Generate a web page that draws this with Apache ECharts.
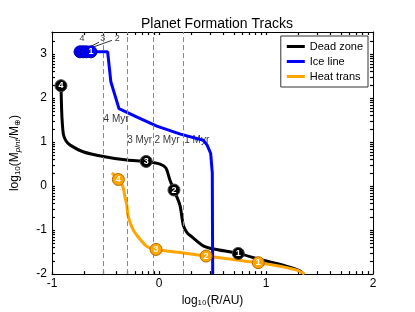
<!DOCTYPE html>
<html><head><meta charset="utf-8">
<script src="https://cdn.jsdelivr.net/npm/echarts@6/dist/echarts.min.js"></script>
<style>html,body{margin:0;padding:0;background:#fff}#c{width:415px;height:312px}</style>
</head><body><div id="c"></div>
<script>
// ---- data ----
const deadZoneX = [-0.916, -0.912, -0.907, -0.894, -0.87, -0.83, -0.71, -0.52, -0.30, -0.12, 0.01, 0.065, 0.10, 0.14, 0.196, 0.227, 0.26, 0.305, 0.414, 0.51, 0.741, 0.944, 1.19, 1.32, 1.35];
const deadZoneY = [2.28, 1.9, 1.56, 1.18, 1.03, 0.93, 0.78, 0.67, 0.59, 0.56, 0.50, 0.41, 0.15, -0.09, -0.44, -0.89, -1.05, -1.15, -1.36, -1.43, -1.53, -1.67, -1.82, -1.93, -2.0];
const iceLineX = [-0.738, -0.645, -0.48, -0.45, -0.374, -0.2, -0.02, 0.2, 0.414, 0.45, 0.483, 0.498, 0.50, 0.502];
const iceLineY = [3.05, 3.05, 3.05, 2.37, 1.76, 1.56, 1.36, 1.18, 1.04, 0.93, 0.74, 0.30, -1.0, -2.0];
const heatTransX = [-0.44, -0.38, -0.34, -0.32, -0.30, -0.29, -0.25, -0.21, -0.115, -0.028, 0.227, 0.44, 0.694, 0.928, 1.13, 1.29, 1.36];
const heatTransY = [0.30, 0.15, 0.0, -0.22, -0.45, -0.67, -0.95, -1.11, -1.37, -1.44, -1.52, -1.59, -1.67, -1.74, -1.82, -1.91, -2.0];

const markerNames = ['4', '3', '2', '1'];
const deadZoneMarkX = [-0.916, -0.12, 0.14, 0.741];
const deadZoneMarkY = [2.28, 0.56, -0.09, -1.53];
const heatTransMarkX = [-0.38, -0.028, 0.44, 0.928];
const heatTransMarkY = [0.15, -1.44, -1.59, -1.74];
const iceLineMarkX = [-0.738, -0.71, -0.68, -0.636];
const iceLineMarkY = [3.05, 3.05, 3.05, 3.05];
const iceLineMarkShown = ['', '', '', '1'];

const timeLinesX = [-0.523, -0.302, -0.047, 0.231];
const timeLabels = ['4 Myr', '3 Myr', '2 Myr', '1 Myr'];
const timeLabelY = [1.52, 1.04, 1.04, 1.04];

const topNoteNames = ['4', '3', '2'];
const topNoteX = [-0.72, -0.526, -0.39];
const topNoteY = [3.36, 3.36, 3.36];
const leaderFrom = [[-0.56, 3.27], [-0.44, 3.31]];
const leaderTo = [[-0.70, 3.09], [-0.67, 3.11]];

const xTickLabels = [-1, 0, 1, 2];
const yTickLabels = [-2, -1, 0, 1, 2, 3];

// ---- tick positions (log-style minor ticks) ----
function logTicks(lo, hi) {
  const t = [];
  for (let d = lo; d < hi; d++) {
    t.push(d);
    for (let k = 2; k <= 9; k++) { const v = d + Math.log10(k); if (v <= hi) t.push(v); }
  }
  t.push(hi);
  return t;
}
const xTicks = logTicks(-1, 2);
const yTicks = logTicks(-2, 3).concat([3.301]);

const zip = (a, b) => a.map((v, i) => [v, b[i]]);
const FONT = 'Liberation Sans';

const chart = echarts.init(document.getElementById('c'), null, { renderer: 'canvas' });

function frameX(pos, labels, extra) {
  return Object.assign({
    type: 'value', min: -1, max: 2, interval: 1, position: pos,
    axisLine: { onZero: false, lineStyle: { color: '#000', width: 1 } },
    axisTick: { inside: true, customValues: xTicks, length: 3, lineStyle: { color: '#000', width: 1.2 } },
    axisLabel: labels ? { customValues: xTickLabels, color: '#000', fontSize: 12, margin: 4, fontFamily: FONT } : { show: false },
    splitLine: { show: false }
  }, extra || {});
}
function frameY(pos, labels, extra) {
  return Object.assign({
    type: 'value', min: -2, max: 3.5, interval: 1, position: pos,
    axisLine: { onZero: false, lineStyle: { color: '#000', width: 1 } },
    axisTick: { inside: true, customValues: yTicks, length: 3, lineStyle: { color: '#000', width: 1.2 } },
    axisLabel: labels ? { customValues: yTickLabels, color: '#000', fontSize: 12, margin: 5, fontFamily: FONT } : { show: false },
    splitLine: { show: false }
  }, extra || {});
}

function markerSeries(name, xs, ys, labels, color, border) {
  return {
    type: 'scatter', name: name + ' markers', z: 5,
    symbol: 'circle', symbolSize: 12,
    itemStyle: { color: color, borderColor: border, borderWidth: 1, opacity: 1 },
    label: { show: true, position: 'inside', formatter: '{b}', color: '#fff', fontSize: 9, fontWeight: 'bold', fontFamily: FONT },
    data: xs.map((x, i) => ({ value: [x, ys[i]], name: labels[i] })),
    tooltip: { show: false }
  };
}

const option = {
  backgroundColor: '#fff',
  animation: false,
  title: {
    text: 'Planet Formation Tracks', left: 136, top: 12,
    textStyle: { fontSize: 14, fontWeight: 'normal', color: '#000', fontFamily: FONT }
  },
  legend: {
    orient: 'vertical', right: 47, top: 36,
    data: ['Dead zone', 'Ice line', 'Heat trans'],
    icon: 'rect', itemWidth: 18, itemHeight: 3, itemGap: 4,
    borderColor: '#333', borderWidth: 1, borderRadius: 0,
    padding: [5, 5, 5, 6], backgroundColor: '#fff',
    textStyle: { fontSize: 11, color: '#000', fontFamily: FONT }
  },
  grid: { left: 52, right: 42, top: 32, bottom: 32 },
  xAxis: [
    frameX('bottom', true, {
      name: 'log₁₀(R/AU)', nameLocation: 'middle', nameGap: 11,
      nameTextStyle: { fontSize: 12, color: '#000', fontFamily: FONT }
    }),
    frameX('top', false)
  ],
  yAxis: [
    frameY('left', true, {
      name: '{a|log}{s|10}{a|(M}{i|plnt}{a|/M}{s|⊕}{a|)}', nameLocation: 'middle', nameGap: 30,
      nameTextStyle: {
        fontSize: 12, color: '#000', fontFamily: FONT,
        rich: {
          a: { fontSize: 12, color: '#000', fontFamily: FONT },
          s: { fontSize: 8, color: '#000', fontFamily: FONT, verticalAlign: 'bottom', padding: [6, 0, 0, 0] },
          i: { fontSize: 8, color: '#000', fontFamily: FONT, fontStyle: 'italic', verticalAlign: 'bottom', padding: [6, 0, 0, 0] }
        }
      }
    }),
    frameY('right', false)
  ],
  series: [
    {
      type: 'line', name: 'Dead zone', z: 3, data: zip(deadZoneX, deadZoneY),
      showSymbol: false, symbol: 'none', smooth: 0.25,
      lineStyle: { color: '#000', width: 3 }, itemStyle: { color: '#000' }
    },
    {
      type: 'line', name: 'Heat trans', z: 3, data: zip(heatTransX, heatTransY),
      showSymbol: false, symbol: 'none', smooth: 0.25,
      lineStyle: { color: '#FFA500', width: 3 }, itemStyle: { color: '#FFA500' }
    },
    {
      type: 'line', name: 'Ice line', z: 4, data: zip(iceLineX, iceLineY),
      showSymbol: false, symbol: 'none', smooth: false,
      lineStyle: { color: '#0000FF', width: 3 }, itemStyle: { color: '#0000FF' },
      markLine: {
        silent: true, symbol: 'none', animation: false,
        lineStyle: { color: '#000', width: 0.8, type: 'solid' },
        label: { show: false },
        data: leaderFrom.map((p, i) => [{ coord: p }, { coord: leaderTo[i] }])
      }
    },
    markerSeries('Dead zone', deadZoneMarkX, deadZoneMarkY, markerNames, '#000', '#444'),
    markerSeries('Heat trans', heatTransMarkX, heatTransMarkY, markerNames, '#FFA500', '#b06a00'),
    markerSeries('Ice line', iceLineMarkX, iceLineMarkY, iceLineMarkShown, '#0000FF', '#0000aa'),
    {
      type: 'scatter', name: 'time lines', z: 1, symbolSize: 1,
      itemStyle: { color: 'rgba(0,0,0,0)' },
      data: [],
      markLine: {
        silent: true, symbol: 'none', animation: false,
        lineStyle: { color: '#888', width: 1, type: [5, 3] },
        label: { show: false },
        data: timeLinesX.map(v => ({ xAxis: v }))
      }
    },
    {
      type: 'scatter', name: 'time labels', z: 2, symbolSize: 1,
      itemStyle: { color: 'rgba(0,0,0,0)' },
      label: { show: true, position: 'right', distance: 0, formatter: '{b}', color: '#000', fontSize: 10, fontFamily: FONT, backgroundColor: '#fff', padding: [0, 1, 0, 0] },
      data: timeLinesX.map((x, i) => ({ value: [x, timeLabelY[i]], name: timeLabels[i] }))
    },
    {
      type: 'scatter', name: 'top notes', z: 2, symbolSize: 1,
      itemStyle: { color: 'rgba(0,0,0,0)' },
      label: { show: true, position: 'inside', formatter: '{b}', color: '#000', fontSize: 9, fontFamily: FONT },
      data: topNoteX.map((x, i) => ({ value: [x, topNoteY[i]], name: topNoteNames[i] }))
    }
  ]
};
chart.setOption(option);
</script>
</body></html>
